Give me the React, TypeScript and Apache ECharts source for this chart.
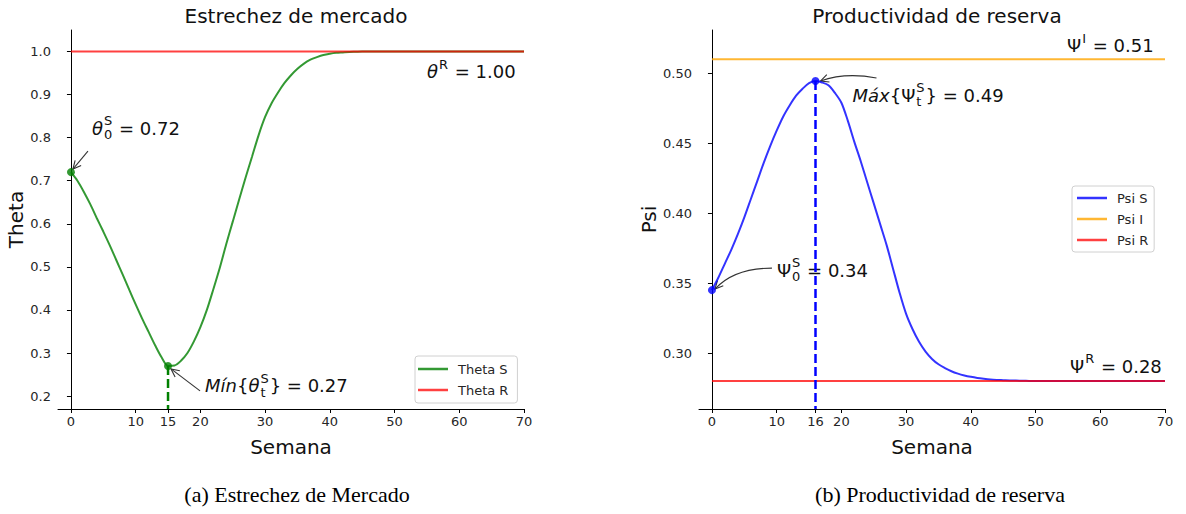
import React, { useEffect, useRef } from "react";
import * as echarts from "echarts";

// ---------- DATA ----------
const weeks: number[] = [
  0, 1, 2, 3, 4, 5, 6, 7, 8, 9, 10, 11, 12, 13, 14, 15, 16, 17, 18, 19, 20,
  21, 22, 23, 24, 25, 26, 27, 28, 29, 30, 31, 32, 33, 34, 35, 36, 37, 38, 39,
  40, 41, 42, 43, 44, 45, 46, 47, 48, 49, 50, 51, 52, 53, 54, 55, 56, 57, 58,
  59, 60, 61, 62, 63, 64, 65, 66, 67, 68, 69, 70,
];
const thetaS: number[] = [
  0.72, 0.7, 0.674, 0.645, 0.613, 0.582, 0.55, 0.516, 0.482, 0.447, 0.413,
  0.38, 0.349, 0.318, 0.29, 0.27, 0.271, 0.282, 0.3, 0.327, 0.36, 0.4, 0.448,
  0.498, 0.553, 0.605, 0.657, 0.708, 0.757, 0.806, 0.848, 0.88, 0.905, 0.927,
  0.945, 0.96, 0.972, 0.981, 0.987, 0.992, 0.995, 0.997, 0.998, 0.999, 0.9995,
  1, 1, 1, 1, 1, 1, 1, 1, 1, 1, 1, 1, 1, 1, 1, 1, 1, 1, 1, 1, 1, 1, 1, 1, 1, 1,
];
const thetaR = 1.0;
const psiS: number[] = [
  0.345, 0.354, 0.364, 0.374, 0.385, 0.397, 0.41, 0.423, 0.436, 0.448, 0.459,
  0.469, 0.477, 0.484, 0.489, 0.493, 0.4945, 0.4935, 0.4915, 0.486, 0.479,
  0.466, 0.451, 0.437, 0.422, 0.407, 0.392, 0.377, 0.36, 0.343, 0.328, 0.317,
  0.308, 0.301, 0.2958, 0.292, 0.2893, 0.287, 0.2853, 0.284, 0.283, 0.2822,
  0.2816, 0.2811, 0.2808, 0.2806, 0.2804, 0.2803, 0.2802, 0.2801, 0.28, 0.28,
  0.28, 0.28, 0.28, 0.28, 0.28, 0.28, 0.28, 0.28, 0.28, 0.28, 0.28, 0.28, 0.28,
  0.28, 0.28, 0.28, 0.28, 0.28, 0.28,
];
const psiI = 0.51;
const psiR = 0.28;

const thetaXTicks = [0, 10, 15, 20, 30, 40, 50, 60, 70];
const psiXTicks = [0, 10, 16, 20, 30, 40, 50, 60, 70];
const thetaYTicks = [0.2, 0.3, 0.4, 0.5, 0.6, 0.7, 0.8, 0.9, 1.0];
const psiYTicks = [0.3, 0.35, 0.4, 0.45, 0.5];
const xRange = [-2, 70];
const thetaYRange = [0.17, 1.05];
const psiYRange = [0.26, 0.531];

const theta0 = [0, 0.72];
const thetaMin = [15, 0.27];
const psi0 = [0, 0.345];
const psiMax = [16, 0.4945];

// ---------- STYLE ----------
const FONT = '"DejaVu Sans", sans-serif';
const GREEN = "#008000";
const RED = "#ff0000";
const BLUE = "#0000ff";
const ORANGE = "#ffa500";

let measureCtx: CanvasRenderingContext2D | null = null;
function measure(text: string, size: number, italic?: boolean) {
  if (!measureCtx) measureCtx = document.createElement("canvas").getContext("2d");
  const ctx = measureCtx!;
  ctx.font = `${italic ? "italic " : ""}${size}px ${FONT}`;
  return ctx.measureText(text).width;
}

type Part = { t?: string; it?: boolean; sup?: string; sub?: string; subIt?: boolean };
function mathText(x: number, y: number, parts: Part[], size = 18): any[] {
  const els: any[] = [];
  let cx = x;
  const ss = Math.round(size * 0.7);
  const mk = (tx: number, ty: number, text: string, fs: number, it?: boolean, lh?: number) => ({
    type: "text",
    x: tx,
    y: ty,
    silent: true,
    style: {
      text,
      fontSize: fs,
      fontFamily: FONT,
      fontStyle: it ? "italic" : "normal",
      fill: "#111",
      align: "left",
      verticalAlign: "middle",
      lineHeight: lh,
    },
  });
  for (const p of parts) {
    if (p.t !== undefined) {
      els.push(mk(cx, y, p.t, size, p.it));
      cx += measure(p.t, size, p.it);
    } else {
      let w = 0;
      if (p.sup) {
        els.push(mk(cx + 1, y - size * 0.4, p.sup, ss, false, 10));
        w = Math.max(w, measure(p.sup, ss));
      }
      if (p.sub) {
        els.push(mk(cx + 1, y + size * 0.34, p.sub, ss, p.subIt, 10));
        w = Math.max(w, measure(p.sub, ss, p.subIt));
      }
      cx += w + 2;
    }
  }
  return els;
}

function arrow(tail: number[], tip: number[], ctrl?: number[]): any[] {
  const from = ctrl ?? tail;
  const ang = Math.atan2(tip[1] - from[1], tip[0] - from[0]);
  const hl = 9;
  const a1 = ang + Math.PI - 0.45;
  const a2 = ang + Math.PI + 0.45;
  const style = { stroke: "#333", lineWidth: 1.1, fill: null };
  const shaft = ctrl
    ? {
        type: "bezierCurve",
        silent: true,
        shape: { x1: tail[0], y1: tail[1], x2: tip[0], y2: tip[1], cpx1: ctrl[0], cpy1: ctrl[1] },
        style,
      }
    : {
        type: "line",
        silent: true,
        shape: { x1: tail[0], y1: tail[1], x2: tip[0], y2: tip[1] },
        style,
      };
  const head = {
    type: "polyline",
    silent: true,
    shape: {
      points: [
        [tip[0] + hl * Math.cos(a1), tip[1] + hl * Math.sin(a1)],
        [tip[0], tip[1]],
        [tip[0] + hl * Math.cos(a2), tip[1] + hl * Math.sin(a2)],
      ],
    },
    style,
  };
  return [shaft, head];
}

function xAxisCfg(g: number, ticks: number[]) {
  return {
    type: "value",
    gridIndex: g,
    min: xRange[0],
    max: xRange[1],
    name: "Semana",
    nameLocation: "middle",
    nameGap: 28,
    nameTextStyle: { fontSize: 20, color: "#111", fontFamily: FONT },
    axisLine: { show: true, onZero: false, lineStyle: { color: "#000", width: 1 } },
    axisTick: { show: true, length: 4, customValues: ticks, lineStyle: { color: "#000" } },
    axisLabel: {
      customValues: ticks,
      fontSize: 13,
      color: "#262626",
      fontFamily: FONT,
      margin: 6,
      formatter: (v: number) => String(v),
    },
    splitLine: { show: false },
  };
}

function yAxisCfg(g: number, range: number[], ticks: number[], name: string, dec: number, gap: number) {
  return {
    type: "value",
    gridIndex: g,
    min: range[0],
    max: range[1],
    name,
    nameLocation: "middle",
    nameGap: gap,
    nameTextStyle: { fontSize: 20, color: "#111", fontFamily: FONT },
    axisLine: { show: true, onZero: true, lineStyle: { color: "#000", width: 1 } },
    axisTick: { show: true, length: 4, customValues: ticks, lineStyle: { color: "#000" } },
    axisLabel: {
      customValues: ticks,
      fontSize: 13,
      color: "#262626",
      fontFamily: FONT,
      margin: 7,
      formatter: (v: number) => v.toFixed(dec),
    },
    splitLine: { show: false },
  };
}

const legendBase = {
  orient: "vertical",
  icon: "rect",
  itemWidth: 30,
  itemHeight: 2.5,
  itemGap: 5,
  borderColor: "#d0d0d0",
  borderWidth: 1,
  borderRadius: 3,
  backgroundColor: "#fff",
  textStyle: { fontSize: 13, color: "#262626", fontFamily: FONT, lineHeight: 16, padding: [0, 0, 0, 5] },
};

export default function App() {
  const ref = useRef<HTMLDivElement>(null);
  useEffect(() => {
    const chart = echarts.init(ref.current!, null, { renderer: "svg" });
    const lineSeries = (name: string, g: number, xs: number[], ys: number[], color: string, opacity: number, z: number, smooth = false) => ({
      name,
      type: "line",
      xAxisIndex: g,
      yAxisIndex: g,
      data: xs.map((x, i) => [x, ys[i]]),
      showSymbol: false,
      symbol: "none",
      smooth: smooth ? 0.3 : false,
      color,
      z,
      lineStyle: { color, width: 2, opacity },
      itemStyle: { color, opacity },
      emphasis: { disabled: true },
    });
    const first = weeks[0];
    const last = weeks[weeks.length - 1];
    const option: any = {
      animation: false,
      backgroundColor: "#fff",
      title: [
        { text: "Estrechez de mercado", left: 291, top: 1, textAlign: "center", textStyle: { fontSize: 20, fontWeight: "normal", color: "#111", fontFamily: FONT } },
        { text: "Productividad de reserva", left: 932, top: 1, textAlign: "center", textStyle: { fontSize: 20, fontWeight: "normal", color: "#111", fontFamily: FONT } },
      ],
      grid: [
        { left: 58, top: 30, width: 466, height: 379, containLabel: false, outerBoundsMode: "none" },
        { left: 699, top: 30, width: 466, height: 379, containLabel: false, outerBoundsMode: "none" },
      ],
      legend: [
        { ...legendBase, data: ["Theta S", "Theta R"], left: 415, top: 356, padding: [5, 9, 5, 3] },
        { ...legendBase, data: ["Psi S", "Psi I", "Psi R"], left: 1072, top: 186, padding: [4, 6, 4, 5] },
      ],
      xAxis: [xAxisCfg(0, thetaXTicks), xAxisCfg(1, psiXTicks)],
      yAxis: [
        yAxisCfg(0, thetaYRange, thetaYTicks, "Theta", 1, 29),
        yAxisCfg(1, psiYRange, psiYTicks, "Psi", 2, 35),
      ],
      series: [
        lineSeries("Theta S", 0, weeks, thetaS, GREEN, 0.8, 2, true),
        lineSeries("Theta R", 0, [first, last], [thetaR, thetaR], RED, 0.75, 3),
        {
          type: "line",
          xAxisIndex: 0,
          yAxisIndex: 0,
          data: [thetaMin, [thetaMin[0], thetaYRange[0]]],
          showSymbol: false,
          symbol: "none",
          z: 4,
          lineStyle: { color: GREEN, width: 2.5, type: [9, 4] },
          emphasis: { disabled: true },
        },
        {
          type: "scatter",
          xAxisIndex: 0,
          yAxisIndex: 0,
          data: [theta0, thetaMin],
          symbolSize: 8,
          z: 5,
          itemStyle: { color: GREEN },
          emphasis: { disabled: true },
        },
        lineSeries("Psi S", 1, weeks, psiS, BLUE, 0.8, 2, true),
        lineSeries("Psi I", 1, [first, last], [psiI, psiI], ORANGE, 0.8, 3),
        lineSeries("Psi R", 1, [first, last], [psiR, psiR], RED, 0.75, 3),
        {
          type: "line",
          xAxisIndex: 1,
          yAxisIndex: 1,
          data: [psiMax, [psiMax[0], psiYRange[0]]],
          showSymbol: false,
          symbol: "none",
          z: 4,
          lineStyle: { color: BLUE, width: 2.5, type: [9, 4] },
          emphasis: { disabled: true },
        },
        {
          type: "scatter",
          xAxisIndex: 1,
          yAxisIndex: 1,
          data: [psi0, psiMax],
          symbolSize: 8,
          z: 5,
          itemStyle: { color: BLUE },
          emphasis: { disabled: true },
        },
      ],
    };
    chart.setOption(option);

    const px = (g: number, pt: number[]) => chart.convertToPixel({ gridIndex: g } as any, pt) as number[];
    const add = (a: number[], dx: number, dy: number) => [a[0] + dx, a[1] + dy];

    const pT0 = px(0, theta0);
    const pTMin = px(0, thetaMin);
    const pTR = px(0, [last, thetaR]);
    const pP0 = px(1, psi0);
    const pPMax = px(1, psiMax);
    const pPI = px(1, [last, psiI]);
    const pPR = px(1, [last, psiR]);

    const els: any[] = [
      ...mathText(pT0[0] + 21, pT0[1] - 44, [{ t: "θ", it: true }, { sup: "S", sub: "0" }, { t: " = 0.72" }]),
      ...arrow(add(pT0, 17, -21), add(pT0, 2, -3)),
      ...mathText(pTR[0] - 97, pTR[1] + 20, [{ t: "θ", it: true }, { sup: "R" }, { t: " = 1.00" }]),
      ...mathText(pTMin[0] + 37, pTMin[1] + 20, [{ t: "Mín", it: true }, { t: "{" }, { t: "θ", it: true }, { sup: "S", sub: "t", subIt: false }, { t: "} = 0.27" }]),
      ...arrow(add(pTMin, 32, 25), add(pTMin, 3, 3)),
      ...mathText(pPI[0] - 98, pPI[1] - 14, [{ t: "Ψ" }, { sup: "I" }, { t: " = 0.51" }]),
      ...mathText(pPMax[0] + 37, pPMax[1] + 14, [{ t: "Máx", it: true }, { t: "{Ψ" }, { sup: "S", sub: "t" }, { t: "} = 0.49" }]),
      ...arrow(add(pPMax, 61, -3), add(pPMax, 5, 0), add(pPMax, 30, -9)),
      ...mathText(pP0[0] + 65, pP0[1] - 20, [{ t: "Ψ" }, { sup: "S", sub: "0" }, { t: " = 0.34" }]),
      ...arrow(add(pP0, 60, -22), add(pP0, 3, -1), add(pP0, 22, -22)),
      ...mathText(pPR[0] - 95, pPR[1] - 15, [{ t: "Ψ" }, { sup: "R" }, { t: " = 0.28" }]),
      {
        type: "text",
        x: 297,
        y: 494,
        silent: true,
        style: { text: "(a) Estrechez de Mercado", fontSize: 22, fontFamily: '"Liberation Serif", serif', fill: "#000", align: "center", verticalAlign: "middle" },
      },
      {
        type: "text",
        x: 940,
        y: 494,
        silent: true,
        style: { text: "(b) Productividad de reserva", fontSize: 22, fontFamily: '"Liberation Serif", serif', fill: "#000", align: "center", verticalAlign: "middle" },
      },
    ];
    chart.setOption({ graphic: els });
    return () => chart.dispose();
  }, []);
  return <div ref={ref} style={{ position: "absolute", left: 0, top: 0, width: 1186, height: 514 }} />;
}
